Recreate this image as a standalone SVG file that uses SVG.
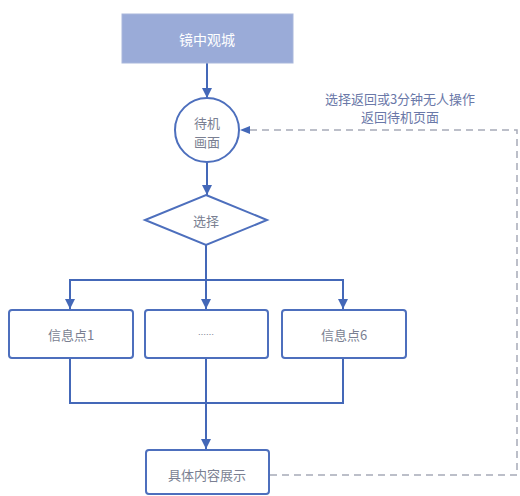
<svg xmlns="http://www.w3.org/2000/svg" width="520" height="496" viewBox="0 0 520 496">
<defs>
<style>
.box{fill:#fff;stroke:#4d6fbd;stroke-width:2}
.t{font-family:"Noto Sans CJK SC","Noto Sans",sans-serif;font-size:13px;fill:#7a7f92;text-anchor:middle;dominant-baseline:central}
.ln{fill:none;stroke:#4468b8;stroke-width:2}
.dash{fill:none;stroke:#a7aab8;stroke-width:1.5;stroke-dasharray:7 5}
.lbl{font-family:"Noto Sans CJK SC","Noto Sans",sans-serif;font-size:13px;fill:#6a78a8;text-anchor:middle}
</style>
<marker id="ah" viewBox="0 0 10 10" refX="10" refY="5" markerWidth="10" markerHeight="10" markerUnits="userSpaceOnUse" orient="auto">
<path d="M0,0 L10,5 L0,10 z" fill="#4468b8"/>
</marker>
</defs>
<rect width="520" height="496" fill="#fff"/>
<g id="connectors">
<line class="ln" x1="207" y1="63" x2="207" y2="98" marker-end="url(#ah)"/>
<line class="ln" x1="207" y1="162" x2="207" y2="195" marker-end="url(#ah)"/>
<polyline class="ln" points="206,245 206,280"/>
<polyline class="ln" points="70,309 70,280 343,280 343,309" marker-end="url(#ah)"/>
<path class="ln" d="M70,280 L70,309" marker-end="url(#ah)"/>
<line class="ln" x1="206" y1="280" x2="206" y2="309" marker-end="url(#ah)"/>
<polyline class="ln" points="70,358 70,403 343,403 343,358"/>
<line class="ln" x1="206" y1="358" x2="206" y2="449" marker-end="url(#ah)"/>
<polyline class="dash" points="270,475 517,475 517,130 250,130"/>
<path d="M240,130 L250,126 L250,134 z" fill="#4468b8"/>
<text class="lbl" x="400" y="104">选择返回或3分钟无人操作</text>
<text class="lbl" x="400" y="122">返回待机页面</text>
</g>
<g id="top">
<rect x="122" y="14" width="171" height="49" fill="#9aabd8" stroke="#a9b7dc" stroke-width="1"/>
<text class="t" x="207" y="39" style="fill:#fff;font-size:14px">镜中观城</text>
</g>
<g id="standby">
<circle class="box" cx="207" cy="130" r="32"/>
<text class="t" x="207" y="122">待机</text>
<text class="t" x="207" y="141">画面</text>
</g>
<g id="choose">
<polygon class="box" points="206,195 267,220 206,245 145,220"/>
<text class="t" x="206" y="220">选择</text>
</g>
<g id="info1">
<rect class="box" x="9" y="310" width="124" height="48" rx="3"/>
<text class="t" x="71" y="334">信息点1</text>
</g>
<g id="info-mid">
<rect class="box" x="145" y="310" width="123" height="48" rx="3"/>
<text class="t" x="206" y="334" style="font-size:8px">……</text>
</g>
<g id="info6">
<rect class="box" x="282" y="310" width="124" height="48" rx="3"/>
<text class="t" x="344" y="334">信息点6</text>
</g>
<g id="detail">
<rect class="box" x="146" y="450" width="123" height="44" rx="3"/>
<text class="t" x="207" y="474">具体内容展示</text>
</g>
</svg>
